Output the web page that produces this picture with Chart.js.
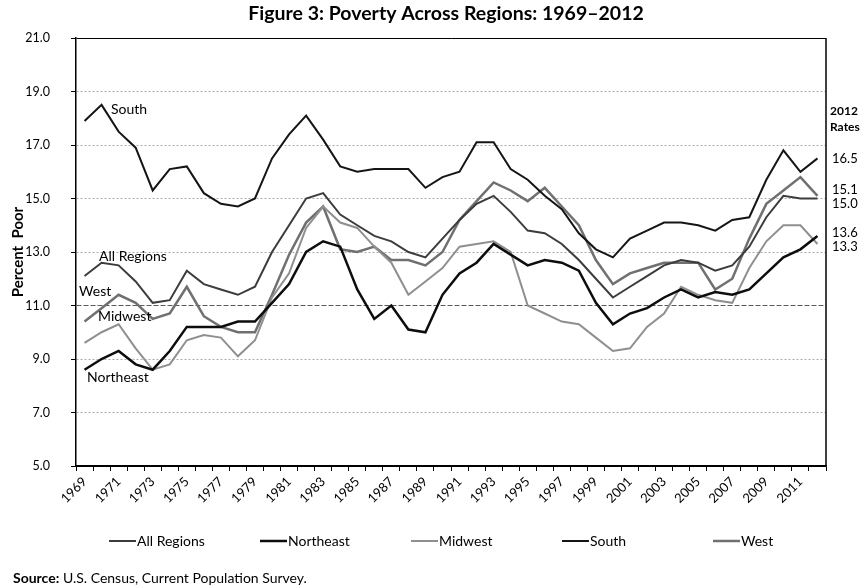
<!DOCTYPE html>
<html>
<head>
<meta charset="utf-8">
<title>Poverty Across Regions</title>
<script src="https://cdn.jsdelivr.net/npm/chart.js@4.4.0/dist/chart.umd.min.js"></script>
<style>
  html, body { margin: 0; padding: 0; background: #fff; }
  #wrap { width: 865px; height: 588px; }
</style>
</head>
<body>
<div id="wrap"><canvas id="chartRegions" width="865" height="588"></canvas></div>
<script>
const years = ['1969','1970','1971','1972','1973','1974','1975','1976','1977','1978',
               '1979','1980','1981','1982','1983','1984','1985','1986','1987','1988',
               '1989','1990','1991','1992','1993','1994','1995','1996','1997','1998',
               '1999','2000','2001','2002','2003','2004','2005','2006','2007','2008',
               '2009','2010','2011','2012'];

const allRegions = [12.1, 12.6, 12.5, 11.9, 11.1, 11.2, 12.3, 11.8, 11.6, 11.4,
                    11.7, 13.0, 14.0, 15.0, 15.2, 14.4, 14.0, 13.6, 13.4, 13.0,
                    12.8, 13.5, 14.2, 14.8, 15.1, 14.5, 13.8, 13.7, 13.3, 12.7,
                    12.0, 11.3, 11.7, 12.1, 12.5, 12.7, 12.6, 12.3, 12.5, 13.2,
                    14.3, 15.1, 15.0, 15.0];
const northeast  = [8.6, 9.0, 9.3, 8.8, 8.6, 9.3, 10.2, 10.2, 10.2, 10.4,
                    10.4, 11.1, 11.8, 13.0, 13.4, 13.2, 11.6, 10.5, 11.0, 10.1,
                    10.0, 11.4, 12.2, 12.6, 13.3, 12.9, 12.5, 12.7, 12.6, 12.3,
                    11.1, 10.3, 10.7, 10.9, 11.3, 11.6, 11.3, 11.5, 11.4, 11.6,
                    12.2, 12.8, 13.1, 13.6];
const midwest    = [9.6, 10.0, 10.3, 9.4, 8.6, 8.8, 9.7, 9.9, 9.8, 9.1,
                    9.7, 11.3, 12.2, 13.9, 14.7, 14.1, 13.9, 13.2, 12.6, 11.4,
                    11.9, 12.4, 13.2, 13.3, 13.4, 13.0, 11.0, 10.7, 10.4, 10.3,
                    9.8, 9.3, 9.4, 10.2, 10.7, 11.7, 11.4, 11.2, 11.1, 12.4,
                    13.4, 14.0, 14.0, 13.3];
const south      = [17.9, 18.5, 17.5, 16.9, 15.3, 16.1, 16.2, 15.2, 14.8, 14.7,
                    15.0, 16.5, 17.4, 18.1, 17.2, 16.2, 16.0, 16.1, 16.1, 16.1,
                    15.4, 15.8, 16.0, 17.1, 17.1, 16.1, 15.7, 15.1, 14.6, 13.7,
                    13.1, 12.8, 13.5, 13.8, 14.1, 14.1, 14.0, 13.8, 14.2, 14.3,
                    15.7, 16.8, 16.0, 16.5];
const west       = [10.4, 10.9, 11.4, 11.1, 10.5, 10.7, 11.7, 10.6, 10.2, 10.0,
                    10.0, 11.4, 12.9, 14.1, 14.7, 13.1, 13.0, 13.2, 12.7, 12.7,
                    12.5, 13.0, 14.2, 14.9, 15.6, 15.3, 14.9, 15.4, 14.7, 14.0,
                    12.7, 11.8, 12.2, 12.4, 12.6, 12.6, 12.6, 11.6, 12.0, 13.5,
                    14.8, 15.3, 15.8, 15.1];

const chartTitle = 'Figure 3: Poverty Across Regions: 1969\u20132012';
const yTitle = 'Percent  Poor';
const ratesHeader = ['2012', 'Rates'];
const sourceBold = 'Source:';
const sourceText = ' U.S. Census, Current Population Survey.';

const FONT = 'Lato, "DejaVu Sans", sans-serif';

// labels written next to the lines, placed in data space (category index, percent)
const lineLabels = [
  { text: 'South',       at: [1.55, 18.31] },
  { text: 'All Regions', at: [0.85, 12.83] },
  { text: 'West',        at: [-0.32, 11.52] },
  { text: 'Midwest',     at: [0.79, 10.59] },
  { text: 'Northeast',   at: [0.15, 8.31] }
];

const decorations = {
  id: 'decorations',
  afterDraw(chart) {
    const { ctx, chartArea: area, scales: { x, y } } = chart;
    ctx.save();

    // right frame line
    ctx.strokeStyle = '#000';
    ctx.lineWidth = 1.5;
    ctx.beginPath();
    ctx.moveTo(area.right, area.top);
    ctx.lineTo(area.right, area.bottom);
    ctx.stroke();

    ctx.fillStyle = '#000';
    ctx.textBaseline = 'middle';

    // title
    ctx.font = `bold 19.5px ${FONT}`;
    ctx.textAlign = 'center';
    ctx.fillText(chartTitle, 446, 14);

    // line labels
    ctx.font = `14px ${FONT}`;
    ctx.textAlign = 'left';
    lineLabels.forEach(l => {
      ctx.fillText(l.text, x.getPixelForValue(l.at[0]), y.getPixelForValue(l.at[1]));
    });

    // 2012 rates on the right
    ctx.font = `bold 12px ${FONT}`;
    ctx.fillText(ratesHeader[0], area.right + 4, 111);
    ctx.fillText(ratesHeader[1], area.right + 4, 127);

    const ends = chart.data.datasets.map(ds => ds.data[ds.data.length - 1]);
    const marks = ends.map(v => ({ v, p: y.getPixelForValue(v) })).sort((a, b) => a.p - b.p);
    const gap = 14;
    for (let i = 1; i < marks.length; i++) {
      if (marks[i].p - marks[i - 1].p < gap) {
        const mid = (marks[i].p + marks[i - 1].p) / 2;
        marks[i - 1].p = mid - gap / 2;
        marks[i].p = mid + gap / 2;
      }
    }
    ctx.font = `13px ${FONT}`;
    marks.forEach(m => ctx.fillText(m.v.toFixed(1), area.right + 6, m.p));

    // legend
    const legY = 541, legStart = 109, legStep = 151, legLine = 27;
    ctx.font = `14px ${FONT}`;
    chart.data.datasets.forEach((ds, i) => {
      const lx = legStart + i * legStep;
      ctx.strokeStyle = ds.borderColor;
      ctx.lineWidth = ds.borderWidth;
      ctx.beginPath();
      ctx.moveTo(lx, legY);
      ctx.lineTo(lx + legLine, legY);
      ctx.stroke();
      ctx.fillText(ds.label, lx + legLine + 1, legY);
    });

    // source note
    ctx.font = `bold 14px ${FONT}`;
    ctx.fillText(sourceBold, 13, 578);
    const w = ctx.measureText(sourceBold).width;
    ctx.font = `14px ${FONT}`;
    ctx.fillText(sourceText, 13 + w, 578);

    ctx.restore();
  }
};

const gridValue = c => (c.tick ? c.tick.value : null);

new Chart(document.getElementById('chartRegions').getContext('2d'), {
  type: 'line',
  data: {
    labels: years,
    datasets: [
      { label: 'All Regions', data: allRegions, borderColor: '#3c3c3c', borderWidth: 2 },
      { label: 'Northeast',   data: northeast,  borderColor: '#0d0d0d', borderWidth: 2.5 },
      { label: 'Midwest',     data: midwest,    borderColor: '#8f8f8f', borderWidth: 2 },
      { label: 'South',       data: south,      borderColor: '#151515', borderWidth: 2 },
      { label: 'West',        data: west,       borderColor: '#707070', borderWidth: 2.5 }
    ]
  },
  options: {
    responsive: false,
    animation: false,
    devicePixelRatio: 1,
    elements: { point: { radius: 0 }, line: { tension: 0, fill: false } },
    layout: { padding: { top: 38, right: 39, bottom: 72, left: 0 } },
    plugins: {
      legend: { display: false },
      title: { display: false },
      tooltip: { enabled: false }
    },
    scales: {
      x: {
        type: 'category',
        offset: true,
        afterFit(scale) { scale.height = 50; },
        grid: { offset: true, drawOnChartArea: false, drawTicks: true, tickLength: 5, color: '#000' },
        border: { color: '#000', width: 1.5 },
        ticks: {
          autoSkip: false,
          minRotation: 45,
          maxRotation: 45,
          padding: 3,
          color: '#000',
          font: { family: FONT, size: 13 },
          callback: function (val, i) { return i % 2 === 0 ? this.getLabelForValue(val) : ''; }
        }
      },
      y: {
        min: 5,
        max: 21,
        afterFit(scale) { scale.width = 76; },
        ticks: {
          stepSize: 2,
          padding: 21,
          color: '#000',
          font: { family: FONT, size: 12.5 },
          callback: v => v.toFixed(1)
        },
        grid: {
          tickLength: 5,
          tickColor: '#000',
          lineWidth: 1,
          color: c => {
            const v = gridValue(c);
            if (v === 21 || v === 5) return '#000';
            if (v === 11) return '#5a5a5a';
            return '#ababab';
          }
        },
        border: {
          color: '#000',
          width: 1.5,
          dash: c => {
            const v = gridValue(c);
            if (v === null || v === 21 || v === 5) return [];
            if (v === 11) return [5, 2];
            return [2, 2];
          }
        },
        title: {
          display: true,
          text: yTitle,
          color: '#000',
          font: { family: FONT, size: 15, weight: 'bold' },
          padding: { top: 9, bottom: 0 }
        }
      }
    }
  },
  plugins: [decorations]
});
</script>
</body>
</html>
